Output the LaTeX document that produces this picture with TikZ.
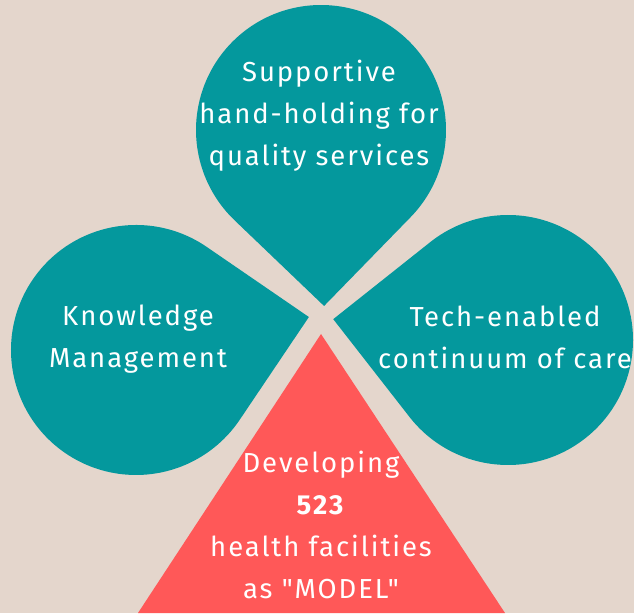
\documentclass[tikz,border=0pt]{standalone}
\usepackage{fontspec}
\setmainfont{Fira Sans}[LetterSpace=7,Ligatures=TeXOff]
\usetikzlibrary{calc}
\definecolor{bgbeige}{RGB}{228,214,204}
\definecolor{leafteal}{RGB}{4,152,157}
\definecolor{coral}{RGB}{255,88,88}
% teardrop: centre, tip direction, radius, tip distance
\def\teardrop[#1](#2)(#3:#4:#5){\pgfmathsetmacro\off{acos(#4/#5)}\fill[#1] ($(#2)+(#3:#5)$) -- ($(#2)+({#3+\off}:#4)$) arc ({#3+\off}:{#3+360-\off}:#4) -- cycle;}

\begin{document}
\begin{tikzpicture}[x=1pt,y=1pt,
    leaf/.style={fill=leafteal},
    label/.style={text=white,align=center,font=\fontsize{27.5}{42}\selectfont}]
			%%%%% START %%%%%
			\def\rad{125}
			\def\tip{176}

			\fill[bgbeige] (0,0) rectangle (634,613);
			\useasboundingbox (0,0) rectangle (634,613);

			\coordinate (ctop) at (321,483);
			\coordinate (cleft) at (136,263);
			\coordinate (cright) at (508,273);

			\teardrop[leaf](ctop)(-89:\rad:\tip)
			\teardrop[leaf](cleft)(10.8:\rad:\tip)
			\teardrop[leaf](cright)(173.2:\rad:\tip)

			\fill[coral] (321,279) -- (505,0) -- (138,0) -- cycle;

			\node[label] (supp) at (319,497) {Supportive\\hand-holding for\\quality services};
			\node[label] (know) at (138,274) {Knowledge\\Management};
			\node[label] (tech) at (505,276) {Tech-enabled\\continuum of care};
			\node[label] (dev) at (321,88) {Developing\\\textbf{523}\\health facilities\\as "MODEL"};
			%%%%% END %%%%%
		\end{tikzpicture}
\end{document}
